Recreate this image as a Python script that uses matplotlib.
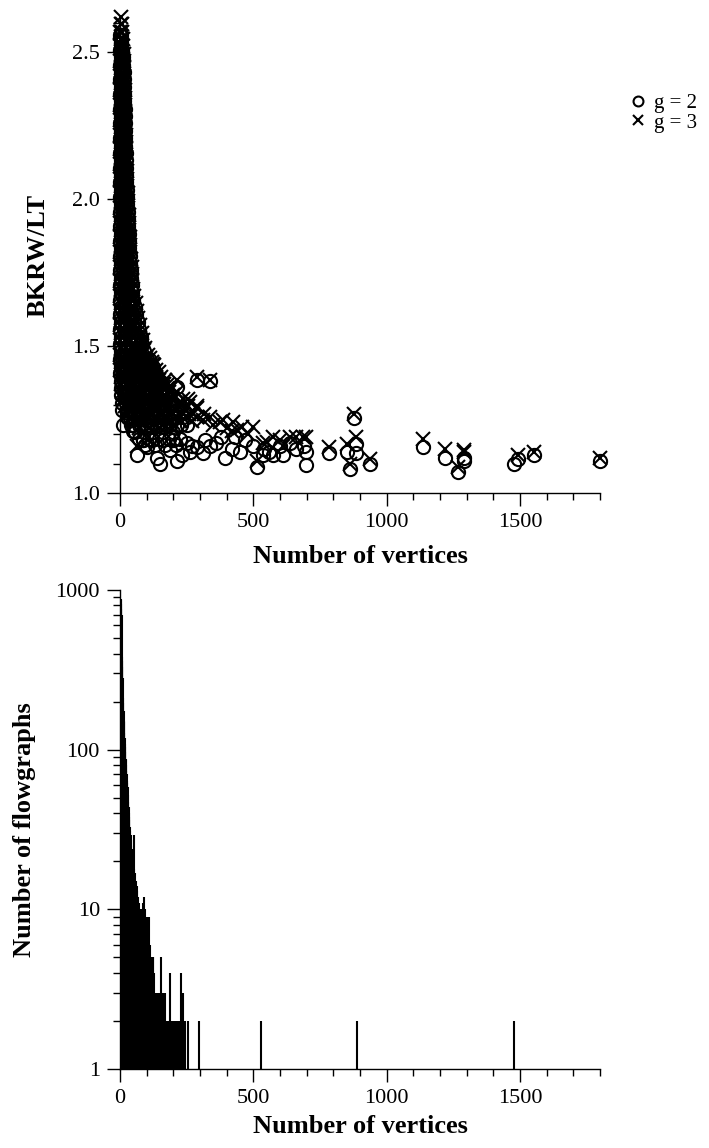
import matplotlib
matplotlib.use("Agg")
import matplotlib.pyplot as plt
from matplotlib.ticker import MultipleLocator, FixedLocator, LogLocator, NullFormatter

plt.rcParams["font.family"] = ["Liberation Serif", "DejaVu Serif"]

# ---- top panel: BKRW/LT ratio against flowgraph size ----
# dense part near the origin, one row per ratio level: (ratio, [vertex counts])
g3_rows = [
    (2.620, [3]), (2.595, [2, 6]), (2.570, [1, 5, 8]), (2.545, [3, 7, 10]),
    (2.520, [1, 5, 9, 12]), (2.495, [2, 7, 13]), (2.470, [1, 5, 10, 14]),
    (2.445, [3, 8, 15]), (2.420, [1, 6, 11, 15]), (2.395, [2, 9, 16]),
    (2.370, [1, 6, 12, 17]), (2.345, [3, 10, 17]), (2.320, [1, 7, 13, 18]),
    (2.295, [2, 10, 19]), (2.270, [1, 7, 14, 19]), (2.245, [3, 11, 20]),
    (2.220, [1, 8, 15, 21]), (2.195, [2, 11, 22]), (2.170, [1, 8, 16, 22]),
    (2.145, [3, 12, 23]), (2.120, [1, 9, 17, 24]), (2.095, [2, 13, 25]),
    (2.070, [1, 9, 18, 26]), (2.045, [3, 14, 27]), (2.020, [1, 10, 19, 28]),
    (1.995, [2, 14, 29]), (1.970, [1, 10, 20, 31]), (1.945, [3, 15, 26, 32]),
    (1.920, [1, 11, 22, 33]), (1.895, [2, 14, 25, 35]), (1.870, [1, 12, 24, 36]),
    (1.845, [3, 15, 27, 38]), (1.820, [1, 12, 25, 39]), (1.795, [2, 16, 29, 41]),
    (1.770, [1, 13, 27, 43]), (1.745, [3, 17, 31, 45]), (1.720, [1, 14, 29, 46]),
    (1.695, [2, 18, 33, 49]), (1.670, [1, 15, 31, 46, 53]),
    (1.645, [3, 19, 36, 58]), (1.620, [1, 16, 33, 50, 62]),
    (1.595, [2, 20, 38, 56, 68]), (1.570, [1, 17, 35, 54, 74]),
    (1.545, [3, 21, 41, 62, 81]), (1.520, [1, 18, 38, 58, 78, 86]),
    (1.495, [2, 22, 44, 66, 94]), (1.470, [1, 19, 40, 62, 84, 104]),
    (1.445, [3, 24, 47, 72, 98, 120]), (1.420, [1, 21, 44, 68, 94, 118, 135]),
    (1.395, [4, 26, 52, 78, 106, 134, 155]),
    (1.370, [2, 24, 50, 78, 108, 138, 165, 180]),
    (1.345, [6, 30, 58, 88, 120, 152, 185, 215]),
    (1.320, [10, 36, 66, 98, 132, 166, 200, 235, 255]),
    (1.295, [18, 45, 76, 110, 145, 180, 218, 255, 290]),
    (1.270, [30, 58, 90, 125, 160, 198, 238, 275, 315]),
    (1.245, [48, 80, 115, 150, 190, 230, 270]),
    (1.220, [70, 110, 150, 195]),
]
g2_rows = [
    (2.5575, [1, 4]), (2.5325, [2, 5]), (2.5075, [1, 4, 8]), (2.4825, [3, 7, 11]),
    (2.4575, [1, 5, 9, 12]), (2.4325, [2, 7, 13]), (2.4075, [1, 5, 10, 14]),
    (2.3825, [3, 8, 14]), (2.3575, [1, 6, 11, 15]), (2.3325, [2, 9, 16]),
    (2.3075, [1, 6, 12, 17]), (2.2825, [3, 10, 17]), (2.2575, [1, 7, 13, 18]),
    (2.2325, [2, 10, 19]), (2.2075, [1, 7, 14, 19]), (2.1825, [3, 11, 20]),
    (2.1575, [1, 8, 15, 21]), (2.1325, [2, 11, 22]), (2.1075, [1, 8, 16, 22]),
    (2.0825, [3, 12, 23]), (2.0575, [1, 9, 17, 24]), (2.0325, [2, 13, 25]),
    (2.0075, [1, 9, 18, 26]), (1.9825, [3, 14, 27]), (1.9575, [1, 10, 19, 28]),
    (1.9325, [2, 14, 29]), (1.9075, [1, 10, 20, 31]), (1.8825, [3, 15, 26, 32]),
    (1.8575, [1, 11, 22, 33]), (1.8325, [2, 14, 25, 35]),
    (1.8075, [1, 12, 24, 36]), (1.7825, [3, 15, 27, 38]),
    (1.7575, [1, 12, 25, 40]), (1.7325, [2, 16, 29, 42]),
    (1.7075, [1, 13, 27, 44]), (1.6825, [3, 17, 31, 46]),
    (1.6575, [1, 14, 29, 44, 50]), (1.6325, [2, 18, 34, 55]),
    (1.6075, [1, 15, 31, 47, 60]), (1.5825, [3, 19, 37, 54, 66]),
    (1.5575, [1, 16, 34, 52, 72]), (1.5325, [2, 20, 40, 60, 78]),
    (1.5075, [1, 17, 36, 56, 76, 84]), (1.4825, [3, 21, 42, 64, 90]),
    (1.4575, [1, 18, 39, 60, 82, 100]), (1.4325, [2, 23, 46, 70, 95, 115]),
    (1.4075, [1, 20, 43, 66, 92, 116, 130]),
    (1.3825, [3, 25, 50, 76, 104, 132, 150]),
    (1.3575, [2, 23, 48, 76, 106, 136, 160]),
    (1.3325, [5, 28, 56, 86, 118, 150, 180]),
    (1.3075, [8, 34, 64, 96, 130, 164, 200]),
    (1.2825, [7, 40, 72, 106, 142, 178, 215]),
    (1.2575, [25, 52, 84, 120, 156, 195, 235]),
    (1.2325, [40, 70, 102, 138, 176, 215, 250]),
    (1.2075, [55, 88, 124, 162, 200]),
    (1.1825, [70, 108, 145, 185, 225]),
    (1.1625, [95, 130, 170, 210]),
]
# extra ratio levels that fill the lower, wider part of the cloud
g3_mid_rows = [
    (1.485, [12, 33, 55, 78, 88]), (1.460, [10, 30, 52, 75, 96, 112]),
    (1.435, [14, 36, 60, 85, 108, 126]), (1.410, [12, 34, 58, 84, 110, 128, 148]),
    (1.385, [16, 40, 66, 92, 120, 146, 168]),
    (1.360, [15, 40, 68, 98, 130, 160, 195]),
    (1.335, [20, 46, 74, 104, 136, 170, 200]),
    (1.310, [25, 55, 88, 122, 158, 190, 225, 262]),
    (1.285, [34, 62, 96, 130, 168, 205, 245]),
    (1.260, [42, 72, 106, 140, 178, 215, 252, 290]),
]
g2_mid_rows = [
    (1.455, [9, 28, 50, 72, 94, 108]), (1.430, [10, 32, 56, 82, 106, 124]),
    (1.405, [12, 35, 60, 86, 112, 136]), (1.380, [14, 38, 64, 92, 120, 142]),
    (1.355, [16, 42, 70, 100, 128, 156]), (1.330, [18, 46, 76, 108, 140, 172]),
    (1.305, [22, 52, 84, 118, 152, 186]),
    (1.280, [30, 62, 95, 130, 168, 205, 240]),
    (1.255, [38, 68, 100, 134, 170, 208]),
    (1.230, [48, 80, 114, 150, 188, 228]),
    (1.180, [85, 120, 160, 198]),
]

# sparse points further out
g2_far_n = [11, 30, 49, 63, 86, 101, 139, 150, 188, 214, 214, 233, 250, 263, 270,
            289, 290, 312, 320, 338, 338, 360, 380, 395, 421, 430, 451, 470, 500,
            515, 538, 540, 560, 575, 600, 612, 639, 660, 690, 699, 699, 782, 850,
            861, 877, 884, 886, 937, 1136, 1218, 1268, 1289, 1291, 1478, 1492,
            1553, 1800]
g2_far_y = [1.23, 1.255, 1.21, 1.13, 1.18, 1.155, 1.12, 1.10, 1.145, 1.11, 1.36,
            1.13, 1.17, 1.14, 1.16, 1.155, 1.385, 1.135, 1.18, 1.16, 1.38, 1.17,
            1.19, 1.12, 1.15, 1.19, 1.14, 1.18, 1.16, 1.09, 1.13, 1.15, 1.14,
            1.13, 1.16, 1.13, 1.17, 1.15, 1.16, 1.095, 1.14, 1.135, 1.14, 1.08,
            1.255, 1.165, 1.135, 1.10, 1.155, 1.12, 1.07, 1.11, 1.12, 1.10,
            1.115, 1.13, 1.11]
g3_far_n = [63, 124, 162, 200, 214, 230, 260, 289, 290, 310, 338, 338, 350, 376,
            387, 400, 420, 425, 440, 458, 480, 500, 515, 538, 550, 575, 600, 612,
            639, 660, 688, 699, 782, 850, 861, 877, 884, 937, 1136, 1218, 1268,
            1289, 1291, 1492, 1553, 1800]
g3_far_y = [1.16, 1.44, 1.37, 1.32, 1.385, 1.30, 1.27, 1.29, 1.395, 1.25, 1.26,
            1.385, 1.23, 1.24, 1.25, 1.22, 1.21, 1.24, 1.215, 1.225, 1.20, 1.225,
            1.11, 1.17, 1.175, 1.19, 1.18, 1.16, 1.19, 1.19, 1.19, 1.19, 1.155,
            1.165, 1.10, 1.27, 1.19, 1.115, 1.185, 1.15, 1.09, 1.14, 1.145, 1.13,
            1.14, 1.12]

# ---- bottom panel: number of flowgraphs per vertex count ----
# counts for vertex counts 1, 2, 3, ... 140
counts_dense = [
    600, 880, 870, 820, 760, 700, 380, 360, 330, 280,
    210, 196, 175, 152, 150, 128, 118, 109, 104, 96,
    88, 86, 80, 74, 70, 64, 62, 58, 52, 47,
    43, 44, 40, 36, 38, 33, 29, 31, 28, 27,
    29, 25, 24, 22, 24, 21, 20, 22, 19, 18,
    29, 17, 16, 18, 15, 17, 14, 15, 13, 14,
    12, 13, 11, 14, 12, 10, 11, 12, 10, 9,
    11, 9, 10, 8, 9, 10, 8, 7, 9, 8,
    9, 8, 10, 7, 9, 8, 11, 7, 9, 12,
    8, 9, 7, 10, 6, 8, 9, 7, 6, 8,
    7, 6, 9, 5, 6, 7, 9, 5, 6, 4,
    5, 6, 4, 5, 3, 4, 5, 3, 5, 4,
    3, 5, 4, 3, 5, 2, 3, 4, 2, 3,
    3, 2, 3, 3, 2, 3, 1, 3, 2, 3,
]
tail_n = [141, 143, 145, 147, 149, 151, 154, 156, 158, 160, 163, 165, 167, 170,
          172, 175, 178, 181, 184, 188, 190, 193, 196, 199, 202, 206, 210, 213,
          216, 220, 224, 229, 232, 235, 238, 241, 245, 256, 297, 530, 887, 1477]
tail_count = [2, 3, 2, 2, 3, 2, 5, 2, 2, 3, 2, 2, 3, 2, 2, 2, 2, 2, 2, 4, 2, 2,
              2, 2, 2, 2, 2, 2, 2, 2, 2, 4, 2, 2, 3, 2, 2, 2, 2, 2, 2, 2]


def flatten(rows):
    ns, ys = [], []
    for y, row in rows:
        ns += row
        ys += [y] * len(row)
    return ns, ys


def style_axes(ax):
    for side in ("top", "right"):
        ax.spines[side].set_visible(False)
    for side in ("left", "bottom"):
        ax.spines[side].set_linewidth(1.0)
    ax.tick_params(which="both", direction="out", width=1.0, labelsize=16, pad=5)
    ax.tick_params(which="major", length=9.5)
    ax.tick_params(which="minor", length=4.7)


fig = plt.figure(figsize=(7.09, 11.48), dpi=100)

ax = fig.add_axes([0.1693, 0.5706, 0.677, 0.4146])
style_axes(ax)

g2_n, g2_y = flatten(g2_rows + g2_mid_rows)
g3_n, g3_y = flatten(g3_rows + g3_mid_rows)
mk = dict(linestyle="none", color="k", ms=9.5, mew=1.5, clip_on=False)
h2, = ax.plot(g2_n + g2_far_n, g2_y + g2_far_y, marker="o", mfc="none", **mk)
h3, = ax.plot(g3_n + g3_far_n, g3_y + g3_far_y, marker="x", **mk)

ax.set_xlim(0, 1800)
ax.set_ylim(1.0, 2.62)
ax.xaxis.set_major_locator(FixedLocator([0, 500, 1000, 1500]))
ax.xaxis.set_minor_locator(MultipleLocator(100))
ax.yaxis.set_major_locator(FixedLocator([1.0, 1.5, 2.0, 2.5]))
ax.yaxis.set_minor_locator(MultipleLocator(0.1))
ax.yaxis.set_major_formatter(lambda v, p: f"{v:.1f}")
ax.set_xlabel("Number of vertices", fontsize=19, fontweight="bold", labelpad=9)
ax.set_ylabel("BKRW/LT", fontsize=19, fontweight="bold", labelpad=16)

fig.legend([h2, h3], ["g = 2", "g = 3"], loc="upper left",
           bbox_to_anchor=(621 / 709, 1 - 83 / 1148), frameon=False,
           fontsize=15, handlelength=0.6, handletextpad=0.5, borderpad=0,
           labelspacing=0.0, markerscale=0.75)

ax = fig.add_axes([0.1693, 0.0688, 0.677, 0.4173])
style_axes(ax)

dense_n = list(range(1, len(counts_dense) + 1))
ax.vlines(dense_n + tail_n, 1, counts_dense + tail_count, color="k", lw=1.5)

ax.set_yscale("log")
ax.set_xlim(0, 1800)
ax.set_ylim(1, 1000)
ax.xaxis.set_major_locator(FixedLocator([0, 500, 1000, 1500]))
ax.xaxis.set_minor_locator(MultipleLocator(100))
ax.yaxis.set_major_locator(FixedLocator([1, 10, 100, 1000]))
ax.yaxis.set_major_formatter(lambda v, p: f"{v:g}")
ax.yaxis.set_minor_locator(LogLocator(base=10, subs=range(2, 10)))
ax.yaxis.set_minor_formatter(NullFormatter())
ax.set_xlabel("Number of vertices", fontsize=19, fontweight="bold", labelpad=5)
ax.set_ylabel("Number of flowgraphs", fontsize=19, fontweight="bold", labelpad=14)

fig.savefig("out.png", dpi=100)
